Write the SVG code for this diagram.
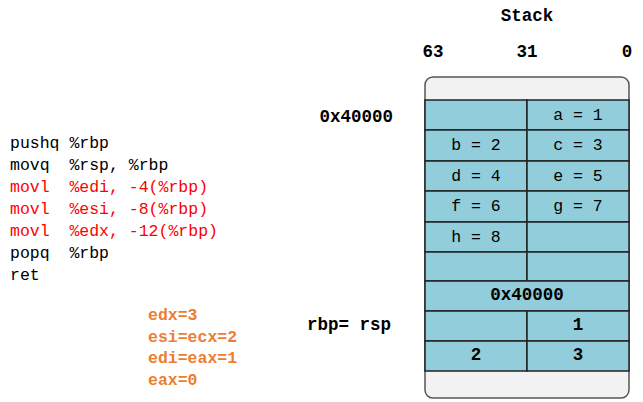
<svg xmlns="http://www.w3.org/2000/svg" width="643" height="402" viewBox="0 0 643 402" xml:space="preserve">
<style>
text{font-family:"Liberation Mono","DejaVu Sans Mono",monospace;font-size:16.5px;dominant-baseline:central;white-space:pre}
.b{font-weight:bold;font-size:17.5px}
.r{fill:#ff0000}
.o{fill:#ED7D31;font-weight:bold}
.c{text-anchor:middle}
.cell{fill:#92CDDC;stroke:#222;stroke-width:1.5}
</style>
<rect width="643" height="402" fill="#fff"/>
<g id="code">
<text x="10" y="143">pushq %rbp</text>
<text x="10" y="165">movq  %rsp, %rbp</text>
<text x="10" y="187" class="r">movl  %edi, -4(%rbp)</text>
<text x="10" y="209" class="r">movl  %esi, -8(%rbp)</text>
<text x="10" y="231" class="r">movl  %edx, -12(%rbp)</text>
<text x="10" y="253">popq  %rbp</text>
<text x="10" y="275">ret</text>
</g>
<g id="regs">
<text x="148" y="315" class="o">edx=3</text>
<text x="148" y="337" class="o">esi=ecx=2</text>
<text x="148" y="358" class="o">edi=eax=1</text>
<text x="148" y="380" class="o">eax=0</text>
</g>
<g id="labels">
<text x="527" y="16" class="b c">Stack</text>
<text x="433" y="52" class="b c">63</text>
<text x="527" y="52" class="b c">31</text>
<text x="627" y="52" class="b c">0</text>
<text x="393" y="117" class="b" text-anchor="end">0x40000</text>
<text x="391" y="325" class="b" text-anchor="end">rbp= rsp</text>
</g>
<g id="stack">
<rect x="425" y="77" width="204" height="321" rx="8" fill="#F2F2F2" stroke="#555" stroke-width="1.5"/>
<rect class="cell" x="425" y="100" width="102" height="30"/><rect class="cell" x="527" y="100" width="102" height="30"/>
<rect class="cell" x="425" y="130" width="102" height="31"/><rect class="cell" x="527" y="130" width="102" height="31"/>
<rect class="cell" x="425" y="161" width="102" height="30"/><rect class="cell" x="527" y="161" width="102" height="30"/>
<rect class="cell" x="425" y="191" width="102" height="31"/><rect class="cell" x="527" y="191" width="102" height="31"/>
<rect class="cell" x="425" y="222" width="102" height="30"/><rect class="cell" x="527" y="222" width="102" height="30"/>
<rect class="cell" x="425" y="252" width="102" height="29"/><rect class="cell" x="527" y="252" width="102" height="29"/>
<rect class="cell" x="425" y="281" width="204" height="30"/>
<rect class="cell" x="425" y="311" width="102" height="30"/><rect class="cell" x="527" y="311" width="102" height="30"/>
<rect class="cell" x="425" y="341" width="102" height="30"/><rect class="cell" x="527" y="341" width="102" height="30"/>
<text x="578" y="115" class="c">a = 1</text>
<text x="476" y="145" class="c">b = 2</text>
<text x="578" y="145" class="c">c = 3</text>
<text x="476" y="176" class="c">d = 4</text>
<text x="578" y="176" class="c">e = 5</text>
<text x="476" y="206" class="c">f = 6</text>
<text x="578" y="206" class="c">g = 7</text>
<text x="476" y="237" class="c">h = 8</text>
<text x="527" y="295" class="b c">0x40000</text>
<text x="578" y="325" class="b c">1</text>
<text x="476" y="355" class="b c">2</text>
<text x="578" y="355" class="b c">3</text>
</g>
</svg>
